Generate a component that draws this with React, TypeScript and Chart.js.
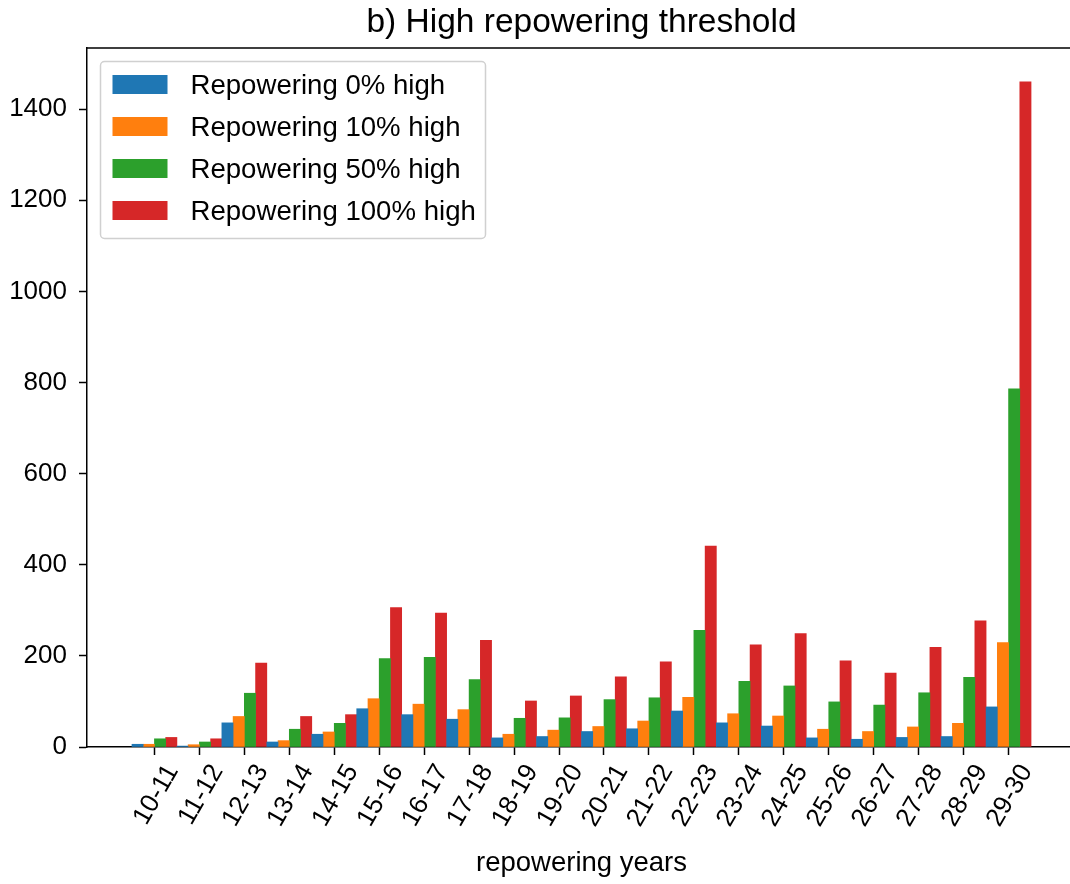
import React, { useEffect, useRef } from "react";
import { Chart, registerables } from "chart.js";

Chart.register(...registerables);

const CATEGORIES = [
  "10-11", "11-12", "12-13", "13-14", "14-15", "15-16", "16-17", "17-18", "18-19", "19-20",
  "20-21", "21-22", "22-23", "23-24", "24-25", "25-26", "26-27", "27-28", "28-29", "29-30",
];

const SERIES_LABELS = [
  "Repowering 0% high",
  "Repowering 10% high",
  "Repowering 50% high",
  "Repowering 100% high",
];

const REPOWER_0 = [6, 2, 53, 11, 28, 84, 71, 61, 20, 23, 34, 40, 79, 53, 46, 20, 17, 21, 23, 88];
const REPOWER_10 = [6, 5, 67, 14, 33, 106, 94, 82, 28, 37, 45, 57, 109, 73, 68, 39, 34, 44, 52, 229];
const REPOWER_50 = [18, 11, 118, 39, 52, 194, 197, 148, 63, 64, 104, 108, 256, 144, 134, 99, 92, 119, 153, 786];
const REPOWER_100 = [21, 18, 184, 67, 71, 306, 294, 234, 101, 112, 154, 187, 441, 224, 249, 189, 162, 219, 277, 1460];

const COLORS = ["#1f77b4", "#ff7f0e", "#2ca02c", "#d62728"];
const Y_TICKS = [0, 200, 400, 600, 800, 1000, 1200, 1400];
const Y_MAX = 1534;
const TITLE = "b) High repowering threshold";
const X_LABEL = "repowering years";

const FONT = '"Liberation Sans", Arial, Helvetica, sans-serif';

export default function App() {
  const ref = useRef<HTMLCanvasElement>(null);

  useEffect(() => {
    const canvas = ref.current;
    if (!canvas) return;
    const seriesValues = [REPOWER_0, REPOWER_10, REPOWER_50, REPOWER_100];
    const datasets = seriesValues.map((vals, k) => ({
      label: SERIES_LABELS[k],
      data: vals.map((v, i) => ({ x: i, y: v })),
      backgroundColor: COLORS[k],
      borderWidth: 0,
      categoryPercentage: 1,
      barPercentage: 1,
    }));

    const decorPlugin = {
      id: "decor",
      afterDraw(chart: any) {
        const { ctx, chartArea: a } = chart;
        ctx.save();
        // top and right spines
        ctx.strokeStyle = "#000";
        ctx.lineWidth = 1.5;
        ctx.beginPath();
        ctx.moveTo(a.left, a.top);
        ctx.lineTo(a.right, a.top);
        ctx.lineTo(a.right, a.bottom);
        ctx.stroke();

        const cx = (a.left + a.right) / 2;
        ctx.fillStyle = "#000";
        ctx.textAlign = "center";
        ctx.textBaseline = "alphabetic";
        ctx.font = `33.5px ${FONT}`;
        ctx.fillText(TITLE, cx, a.top - 16);
        ctx.font = `27.5px ${FONT}`;
        ctx.fillText(X_LABEL, cx, a.bottom + 124);

        // legend
        const lx = a.left + 13.5;
        const ly = a.top + 13.5;
        const lw = 385;
        const lh = 177;
        ctx.beginPath();
        if ((ctx as any).roundRect) {
          (ctx as any).roundRect(lx, ly, lw, lh, 4);
        } else {
          ctx.rect(lx, ly, lw, lh);
        }
        ctx.fillStyle = "rgba(255,255,255,0.8)";
        ctx.fill();
        ctx.strokeStyle = "#d0d0d0";
        ctx.lineWidth = 1.5;
        ctx.stroke();

        ctx.font = `27.6px ${FONT}`;
        ctx.textAlign = "left";
        ctx.textBaseline = "alphabetic";
        chart.data.datasets.forEach((ds: any, k: number) => {
          const rowC = a.top + 36.5 + k * 42;
          ctx.fillStyle = ds.backgroundColor;
          ctx.fillRect(a.left + 25.5, rowC - 9.5, 55, 19);
          ctx.fillStyle = "#000";
          ctx.fillText(ds.label, a.left + 103.5, rowC + 9.5);
        });
        ctx.restore();
      },
    };

    const chart = new Chart(canvas, {
      type: "bar",
      data: { datasets } as any,
      options: {
        responsive: false,
        animation: false,
        devicePixelRatio: 1,
        layout: { padding: { top: 48, right: 14, left: 0, bottom: 0 } },
        plugins: {
          legend: { display: false },
          title: { display: false },
          tooltip: { enabled: false },
        },
        scales: {
          x: {
            type: "linear",
            min: -1.5,
            max: 20.5,
            offset: false,
            grid: { offset: false, drawOnChartArea: false, drawTicks: true, tickLength: 8, tickColor: "#000", tickWidth: 1.5 },
            border: { display: true, color: "#000", width: 1.5 },
            afterBuildTicks: (s: any) => {
              s.ticks = CATEGORIES.map((_, i) => ({ value: i }));
            },
            afterFit: (s: any) => {
              s.height = 137;
            },
            ticks: {
              autoSkip: false,
              maxRotation: 60,
              minRotation: 60,
              labelOffset: 18,
              padding: 4,
              color: "#000",
              font: { family: FONT, size: 26 },
              callback: (v: any) => CATEGORIES[Math.round(Number(v))] ?? "",
            },
          },
          y: {
            min: 0,
            max: Y_MAX,
            grid: { drawOnChartArea: false, drawTicks: true, tickLength: 8, tickColor: "#000", tickWidth: 1.5 },
            border: { display: true, color: "#000", width: 1.5 },
            afterBuildTicks: (s: any) => {
              s.ticks = Y_TICKS.map((v) => ({ value: v }));
            },
            afterFit: (s: any) => {
              s.width = 87;
            },
            ticks: {
              padding: 12,
              color: "#000",
              font: { family: FONT, size: 26 },
              callback: (v: any) => String(v),
            },
          },
        },
      } as any,
      plugins: [decorPlugin],
    });
    return () => chart.destroy();
  }, []);

  return (
    <div style={{ position: "fixed", left: 0, top: 0, width: 1070, height: 884, overflow: "hidden", background: "#fff" }}>
      <canvas ref={ref} width={1090} height={884} style={{ display: "block", width: 1090, height: 884 }} />
    </div>
  );
}
